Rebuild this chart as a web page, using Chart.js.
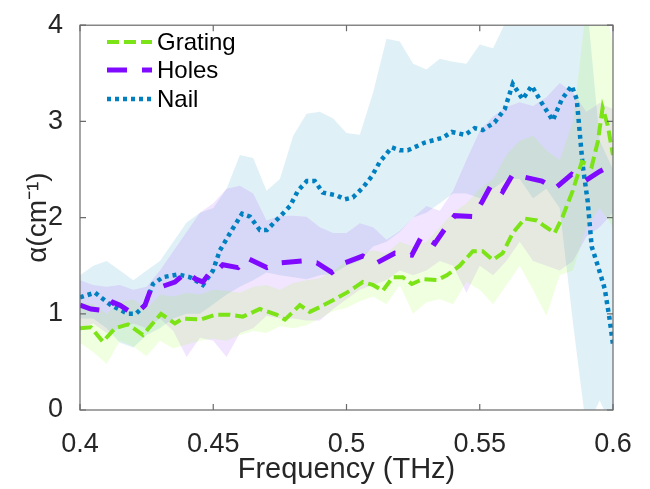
<!DOCTYPE html>
<html>
<head>
<meta charset="utf-8">
<script src="https://cdn.jsdelivr.net/npm/chart.js@4.4.1/dist/chart.umd.min.js"></script>
<style>
  body { margin: 0; background: #fff; }
  #wrap { width: 650px; height: 489px; }
</style>
</head>
<body>
<div id="wrap"><canvas id="chart" width="650" height="489"></canvas></div>
<script>
// mean curves, each with its own frequency samples (THz)
const gratingFreq = [0.4, 0.4041, 0.4086, 0.4131, 0.418, 0.4236, 0.4304, 0.4356, 0.4386, 0.4454, 0.4506, 0.4562, 0.4611, 0.4675, 0.4739, 0.4769, 0.4825, 0.4862, 0.49, 0.4949, 0.5001, 0.5024, 0.5061, 0.5099, 0.5136, 0.5174, 0.5211, 0.5245, 0.5286, 0.5339, 0.5376, 0.5425, 0.5474, 0.5511, 0.5549, 0.5586, 0.5624, 0.5669, 0.5714, 0.5744, 0.5781, 0.5811, 0.5849, 0.5883, 0.592, 0.5943, 0.5961, 0.598, 0.6];
const gratingVals = [0.85, 0.86, 0.71, 0.85, 0.89, 0.78, 1.0, 0.9, 0.95, 0.94, 0.99, 0.99, 0.97, 1.05, 0.99, 0.94, 1.09, 1.02, 1.07, 1.14, 1.22, 1.26, 1.33, 1.3, 1.24, 1.38, 1.38, 1.31, 1.36, 1.35, 1.4, 1.5, 1.65, 1.65, 1.56, 1.63, 1.84, 1.99, 1.97, 1.91, 1.84, 2.01, 2.28, 2.58, 2.53, 2.79, 3.14, 2.96, 2.65];

const holesFreq = [0.4, 0.4041, 0.4098, 0.4124, 0.415, 0.4188, 0.4225, 0.4244, 0.4266, 0.4304, 0.4356, 0.4398, 0.4435, 0.4461, 0.4488, 0.4518, 0.4536, 0.4593, 0.4626, 0.4701, 0.475, 0.4833, 0.4889, 0.4945, 0.4994, 0.5061, 0.5114, 0.5181, 0.5245, 0.5283, 0.5331, 0.5376, 0.5406, 0.5474, 0.5508, 0.5545, 0.5586, 0.5624, 0.5669, 0.5733, 0.5781, 0.5845, 0.5894, 0.595, 0.6];
const holesVals = [1.09, 1.05, 1.03, 1.12, 1.09, 1.02, 1.04, 1.09, 1.26, 1.28, 1.33, 1.43, 1.36, 1.33, 1.43, 1.46, 1.51, 1.48, 1.58, 1.48, 1.53, 1.55, 1.53, 1.43, 1.53, 1.6, 1.53, 1.63, 1.61, 1.81, 1.73, 1.91, 2.02, 2.01, 2.16, 2.35, 2.27, 2.45, 2.42, 2.38, 2.3, 2.45, 2.38, 2.48, 2.55];

const nailFreq = [0.4, 0.4056, 0.4116, 0.418, 0.421, 0.4244, 0.4274, 0.4311, 0.4368, 0.4413, 0.4461, 0.4499, 0.4525, 0.4574, 0.4608, 0.4638, 0.4675, 0.4701, 0.475, 0.4788, 0.4818, 0.4851, 0.4881, 0.4911, 0.4964, 0.4994, 0.5024, 0.5061, 0.5095, 0.5125, 0.517, 0.52, 0.523, 0.5294, 0.5361, 0.5395, 0.5444, 0.5481, 0.5511, 0.5556, 0.5594, 0.5624, 0.5661, 0.5695, 0.5733, 0.5774, 0.5808, 0.5845, 0.5864, 0.5875, 0.5886, 0.5905, 0.592, 0.5943, 0.5969, 0.5987, 0.6];
const nailVals = [1.17, 1.22, 1.09, 1.0, 1.0, 1.09, 1.31, 1.38, 1.41, 1.38, 1.3, 1.45, 1.66, 1.89, 2.04, 2.01, 1.87, 1.87, 2.01, 2.12, 2.28, 2.38, 2.38, 2.26, 2.23, 2.19, 2.21, 2.31, 2.43, 2.58, 2.73, 2.7, 2.7, 2.78, 2.83, 2.89, 2.86, 2.93, 2.91, 2.99, 3.13, 3.39, 3.23, 3.37, 3.19, 3.01, 3.23, 3.37, 3.23, 2.89, 2.55, 2.17, 1.7, 1.5, 1.26, 0.95, 0.68];

// spread bands, sampled every 0.005 THz
const bandFreq = [0.4, 0.405, 0.41, 0.415, 0.42, 0.425, 0.43, 0.435, 0.44, 0.445, 0.45, 0.455, 0.46, 0.465, 0.47, 0.475, 0.48, 0.485, 0.49, 0.495, 0.5, 0.505, 0.51, 0.515, 0.52, 0.525, 0.53, 0.535, 0.54, 0.545, 0.55, 0.555, 0.56, 0.565, 0.57, 0.575, 0.58, 0.585, 0.59, 0.595, 0.6];
const gratingUpper = [1.12, 1.1, 1.0, 1.12, 1.15, 1.05, 1.2, 1.18, 1.22, 1.2, 1.25, 1.24, 1.22, 1.28, 1.3, 1.25, 1.32, 1.35, 1.37, 1.45, 1.55, 1.62, 1.66, 1.63, 1.75, 1.7, 1.75, 1.9, 2.05, 2.15, 2.3, 2.4, 2.65, 2.8, 2.85, 2.7, 2.6, 3.0, 4.2, 4.5, 3.8];
const gratingLower = [0.7, 0.6, 0.48, 0.72, 0.66, 0.56, 0.72, 0.64, 0.68, 0.72, 0.74, 0.72, 0.78, 0.82, 0.8, 0.87, 0.85, 0.88, 0.95, 1.03, 1.06, 1.13, 1.18, 1.1, 1.3, 1.0, 1.12, 1.15, 1.1, 1.33, 1.25, 1.1, 1.3, 1.5, 1.25, 0.98, 1.4, 1.45, 1.9, 2.1, 1.9];
const holesUpper = [1.35, 1.3, 1.28, 1.3, 1.25, 1.28, 1.45, 1.65, 1.85, 2.05, 2.15, 2.3, 2.33, 2.25, 1.97, 2.02, 2.02, 2.01, 1.9, 1.84, 1.84, 1.94, 1.9, 1.77, 1.86, 2.0, 2.12, 2.07, 2.28, 2.6, 2.9, 3.05, 3.15, 3.2, 3.16, 3.25, 3.4, 3.3, 3.1, 3.19, 3.13];
const holesLower = [0.85, 0.9, 0.8, 0.85, 0.9, 0.85, 0.95, 0.82, 0.55, 0.75, 0.72, 0.55, 0.8, 0.85, 0.98, 0.95, 0.95, 0.93, 0.93, 1.05, 1.15, 1.25, 1.3, 1.35, 1.45, 1.4, 1.45, 1.55, 1.5, 1.22, 1.5, 1.4, 1.55, 1.75, 1.55, 1.5, 1.45, 1.55, 1.8, 1.9, 2.05];
const nailUpper = [1.4, 1.5, 1.55, 1.45, 1.35, 1.45, 1.55, 1.75, 1.95, 2.05, 2.1, 2.3, 2.65, 2.62, 2.28, 2.4, 2.85, 3.08, 3.1, 3.03, 2.88, 2.86, 3.3, 3.86, 3.83, 3.6, 3.54, 3.65, 3.62, 3.6, 3.8, 3.76, 4.05, 4.2, 4.3, 4.4, 4.4, 4.3, 4.3, 2.8, 2.5];
const nailLower = [0.95, 0.95, 0.85, 0.7, 0.65, 0.78, 0.85, 0.95, 1.0, 1.0, 1.1, 1.2, 1.28, 1.35, 1.43, 1.4, 1.38, 1.36, 1.4, 1.42, 1.5, 1.55, 1.7, 1.75, 1.85, 2.0, 2.05, 2.15, 2.25, 2.25, 2.2, 2.3, 2.4, 2.4, 2.2, 2.3, 2.1, 0.9, -0.2, 0.1, -0.2];

const xTicks = [0.4, 0.45, 0.5, 0.55, 0.6];
const xTickLabels = ["0.4", "0.45", "0.5", "0.55", "0.6"];
const yTicks = [0, 1, 2, 3, 4];
const seriesNames = ["Grating", "Holes", "Nail"];

const green = "rgb(124, 228, 22)";
const purple = "rgb(128, 10, 255)";
const blue = "rgb(0, 128, 192)";
const ink = "#262626";
const font = "'Liberation Sans', Arial, Helvetica, sans-serif";

function pts(xs, ys) {
  return xs.map((x, i) => ({ x: x, y: ys[i] }));
}

function lineSet(label, xs, ys, color, width, dash) {
  return {
    label: label, data: pts(xs, ys), borderColor: color, borderWidth: width,
    borderDash: dash, borderCapStyle: "butt", borderJoinStyle: "miter",
    pointRadius: 0, fill: false, tension: 0, order: 0
  };
}

function bandSet(label, ys, fillColor, isUpper) {
  return {
    label: label, data: pts(bandFreq, ys), borderWidth: 0, borderColor: "rgba(0,0,0,0)",
    backgroundColor: fillColor, pointRadius: 0, tension: 0, order: 1,
    fill: isUpper ? "+1" : false
  };
}

// frame with inward ticks on every side, plus the legend
const framePlugin = {
  id: "frame",
  afterDraw(chart) {
    const { ctx, chartArea: a, scales } = chart;
    ctx.save();
    ctx.strokeStyle = "#6a6a6a";
    ctx.lineWidth = 1.2;
    ctx.strokeRect(a.left, a.top, a.right - a.left, a.bottom - a.top);
    const tl = 6;
    ctx.beginPath();
    xTicks.forEach(v => {
      const px = scales.x.getPixelForValue(v);
      ctx.moveTo(px, a.bottom); ctx.lineTo(px, a.bottom - tl);
      ctx.moveTo(px, a.top); ctx.lineTo(px, a.top + tl);
    });
    yTicks.forEach(v => {
      const py = scales.y.getPixelForValue(v);
      ctx.moveTo(a.left, py); ctx.lineTo(a.left + tl, py);
      ctx.moveTo(a.right, py); ctx.lineTo(a.right - tl, py);
    });
    ctx.stroke();

    // legend
    const rows = [42, 70, 99];
    ctx.font = "24px " + font;
    ctx.textBaseline = "middle";
    ctx.fillStyle = "#000";
    for (let i = 0; i < 3; i++) {
      const ds = chart.data.datasets[i];
      ctx.beginPath();
      ctx.setLineDash(ds.borderDash);
      ctx.lineCap = "butt";
      ctx.strokeStyle = ds.borderColor;
      ctx.lineWidth = ds.borderWidth;
      ctx.moveTo(107, rows[i]); ctx.lineTo(152, rows[i]);
      ctx.stroke();
      ctx.setLineDash([]);
      ctx.fillText(seriesNames[i], 157, rows[i] + 1);
    }
    ctx.restore();
  }
};

new Chart(document.getElementById("chart"), {
  type: "line",
  data: {
    datasets: [
      lineSet(seriesNames[0], gratingFreq, gratingVals, green, 4, [12, 5]),
      lineSet(seriesNames[1], holesFreq, holesVals, purple, 5, [20, 15]),
      lineSet(seriesNames[2], nailFreq, nailVals, blue, 4.5, [4, 4]),
      bandSet("gU", gratingUpper, "rgba(128, 255, 0, 0.12)", true),
      bandSet("gL", gratingLower, "rgba(128, 255, 0, 0.12)", false),
      bandSet("hU", holesUpper, "rgba(128, 0, 255, 0.10)", true),
      bandSet("hL", holesLower, "rgba(128, 0, 255, 0.10)", false),
      bandSet("nU", nailUpper, "rgba(0, 128, 192, 0.12)", true),
      bandSet("nL", nailLower, "rgba(0, 128, 192, 0.12)", false)
    ]
  },
  options: {
    responsive: false,
    animation: false,
    layout: { padding: { top: 17, right: 37, left: 0, bottom: 0 } },
    plugins: {
      legend: { display: false },
      tooltip: { enabled: false },
      filler: { drawTime: "beforeDatasetsDraw" }
    },
    scales: {
      x: {
        type: "linear", min: 0.4, max: 0.6,
        afterBuildTicks: s => { s.ticks = xTicks.map(v => ({ value: v })); },
        afterFit: s => { s.height = 79; },
        grid: { display: false },
        border: { display: false },
        ticks: {
          padding: 10, color: ink, font: { family: font, size: 27 },
          maxRotation: 0, autoSkip: false,
          callback: (v, i) => xTickLabels[i]
        },
        title: {
          display: true, text: "Frequency (THz)", color: ink,
          font: { family: font, size: 29 }, padding: { top: 0, bottom: 2 }
        }
      },
      y: {
        type: "linear", min: 0, max: 4,
        afterBuildTicks: s => { s.ticks = yTicks.map(v => ({ value: v })); },
        afterFit: s => { s.width = 80; },
        grid: { display: false },
        border: { display: false },
        ticks: { padding: 9, color: ink, font: { family: font, size: 27 } },
        title: {
          display: true, text: "α(cm⁻¹)", color: ink,
          font: { family: font, size: 28 }, padding: { top: 21, bottom: 0 }
        }
      }
    }
  },
  plugins: [framePlugin]
});
</script>
</body>
</html>
